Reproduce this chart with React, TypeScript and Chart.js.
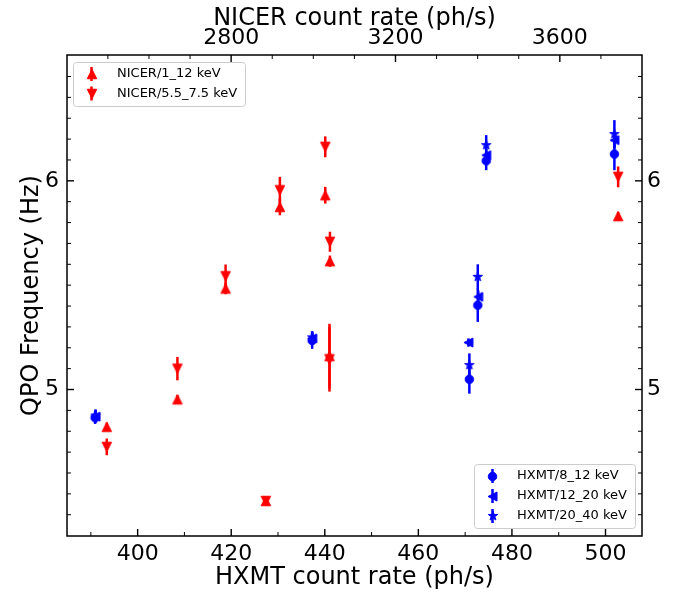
import React, { useEffect, useRef } from 'react';
import { Chart, registerables } from 'chart.js';
Chart.register(...registerables);

// ---- data ----
const nicer112X = [393.4, 408.5, 418.8, 427.4, 430.4, 440.1, 441.1, 441.0, 502.7];
const nicer112Y = [4.821, 4.953, 5.484, 4.466, 5.875, 5.931, 5.615, 5.16, 5.831];
const nicer112Err = [0.02, 0.02, 0.027, 0.02, 0.04, 0.04, 0.027, 0.155, 0.02];

const nicer5575X = [393.4, 408.5, 418.8, 427.4, 430.4, 440.1, 441.1, 441.0, 502.7];
const nicer5575Y = [4.725, 5.10, 5.543, 4.466, 5.955, 6.163, 5.708, 5.145, 6.019];
const nicer5575Err = [0.04, 0.056, 0.056, 0.02, 0.064, 0.05, 0.048, 0.155, 0.05];

const hxmt812X = [390.9, 437.3, 470.9, 472.7, 474.5, 501.9];
const hxmt812Y = [4.865, 5.235, 5.049, 5.404, 6.096, 6.128];
const hxmt812Err = [0.03, 0.04, 0.069, 0.08, 0.045, 0.077];

const hxmt1220X = [391.0, 437.3, 470.7, 472.8, 474.5, 501.9];
const hxmt1220Y = [4.87, 5.245, 5.225, 5.444, 6.123, 6.195];
const hxmt1220Err = [0.03, 0.03, 0.02, 0.03, 0.03, 0.04];

const hxmt2040X = [391.0, 437.3, 470.9, 472.7, 474.5, 501.9];
const hxmt2040Y = [4.875, 5.25, 5.117, 5.54, 6.171, 6.224];
const hxmt2040Err = [0.03, 0.03, 0.056, 0.06, 0.048, 0.067];

const xTickLabels = [400, 420, 440, 460, 480, 500];
const x2TickLabels = [2800, 3200, 3600];
const yTickLabels = [5, 6];

const X_MIN = 384.9, X_MAX = 507.8;
const X2_MIN = 2400.5, X2_MAX = 3800;
const Y_MIN = 4.298, Y_MAX = 6.603;

const RED = '#ff0000';
const BLUE = '#0000ff';
const FONT = "'DejaVu Sans', sans-serif";

function makeMarker(shape: string, color: string, size: number): HTMLCanvasElement {
  const pad = 2;
  const dim = Math.ceil(size) + pad * 2;
  const c = document.createElement('canvas');
  c.width = dim; c.height = dim;
  const g = c.getContext('2d')!;
  const cx = dim / 2, cy = dim / 2, r = size / 2;
  g.fillStyle = color; g.strokeStyle = color; g.lineWidth = 1; g.lineJoin = 'miter';
  g.beginPath();
  if (shape === 'o') g.arc(cx, cy, r, 0, Math.PI * 2);
  else if (shape === '^') { g.moveTo(cx, cy - r); g.lineTo(cx + r, cy + r); g.lineTo(cx - r, cy + r); g.closePath(); }
  else if (shape === 'v') { g.moveTo(cx, cy + r); g.lineTo(cx + r, cy - r); g.lineTo(cx - r, cy - r); g.closePath(); }
  else if (shape === '<') { g.moveTo(cx - r, cy); g.lineTo(cx + r, cy - r); g.lineTo(cx + r, cy + r); g.closePath(); }
  else if (shape === '*') {
    for (let k = 0; k < 10; k++) {
      const a = -Math.PI / 2 + (k * Math.PI) / 5;
      const rr = k % 2 === 0 ? r : r * 0.381966;
      const px = cx + rr * Math.cos(a), py = cy + rr * Math.sin(a);
      if (k === 0) g.moveTo(px, py); else g.lineTo(px, py);
    }
    g.closePath();
  }
  g.fill(); g.stroke();
  return c;
}

const zip = (xs: number[], ys: number[]) => xs.map((x, i) => ({ x, y: ys[i] }));
const range = (a: number, b: number, step: number) => {
  const out: number[] = [];
  for (let v = a; v <= b + 1e-9; v += step) out.push(Math.round(v * 1000) / 1000);
  return out;
};

const errPlugin = {
  id: 'errbars',
  beforeDatasetsDraw(chart: any) {
    const ctx = chart.ctx;
    const ys = chart.scales.y;
    const { left, right, top, bottom } = chart.chartArea;
    ctx.save();
    ctx.beginPath(); ctx.rect(left, top, right - left, bottom - top); ctx.clip();
    chart.data.datasets.forEach((ds: any, i: number) => {
      const meta = chart.getDatasetMeta(i);
      ctx.strokeStyle = ds.barColor;
      ctx.lineWidth = 2.5;
      ds.data.forEach((p: any, j: number) => {
        const el = meta.data[j];
        const e = ds.errs[j];
        ctx.beginPath();
        ctx.moveTo(el.x, ys.getPixelForValue(p.y - e));
        ctx.lineTo(el.x, ys.getPixelForValue(p.y + e));
        ctx.stroke();
      });
    });
    ctx.restore();
  },
};

const framePlugin = {
  id: 'frame',
  afterDraw(chart: any) {
    const ctx = chart.ctx;
    const { left, right, top, bottom } = chart.chartArea;
    ctx.save();
    ctx.strokeStyle = '#000';
    const tickSet = (scale: any, side: string) => {
      scale.ticks.forEach((t: any) => {
        const major = t.label !== '' && t.label != null;
        const len = major ? 7 : 4;
        ctx.lineWidth = major ? 1.4 : 1;
        const p = scale.getPixelForValue(t.value);
        ctx.beginPath();
        if (side === 'bottom') { ctx.moveTo(p, bottom); ctx.lineTo(p, bottom - len); }
        if (side === 'top') { ctx.moveTo(p, top); ctx.lineTo(p, top + len); }
        if (side === 'left') { ctx.moveTo(left, p); ctx.lineTo(left + len, p); }
        if (side === 'right') { ctx.moveTo(right, p); ctx.lineTo(right - len, p); }
        ctx.stroke();
      });
    };
    tickSet(chart.scales.x, 'bottom');
    tickSet(chart.scales.x2, 'top');
    tickSet(chart.scales.y, 'left');
    tickSet(chart.scales.y2, 'right');
    ctx.lineWidth = 1.5;
    ctx.strokeRect(left, top, right - left, bottom - top);

    // legends
    const drawLegend = (box: number[], rows: { y: number; img: HTMLCanvasElement; color: string; text: string }[], mx: number, tx: number) => {
      const [bx, by, bw, bh] = box;
      ctx.beginPath();
      (ctx as any).roundRect(bx + 0.5, by + 0.5, bw, bh, 3);
      ctx.fillStyle = 'rgba(255,255,255,0.8)';
      ctx.fill();
      ctx.strokeStyle = '#cccccc';
      ctx.lineWidth = 1;
      ctx.stroke();
      rows.forEach((r) => {
        ctx.strokeStyle = r.color;
        ctx.lineWidth = 2.5;
        ctx.beginPath();
        ctx.moveTo(mx, r.y - 7); ctx.lineTo(mx, r.y + 7);
        ctx.stroke();
        ctx.drawImage(r.img, Math.round(mx - r.img.width / 2), Math.round(r.y - r.img.height / 2));
        ctx.fillStyle = '#000';
        ctx.font = `13px ${FONT}`;
        ctx.textBaseline = 'middle';
        ctx.textAlign = 'left';
        ctx.fillText(r.text, tx, r.y);
      });
    };
    const ds = chart.data.datasets;
    drawLegend([73, 62, 172, 44], [
      { y: 74, img: ds[0].pointStyle, color: RED, text: ds[0].label },
      { y: 93.5, img: ds[1].pointStyle, color: RED, text: ds[1].label },
    ], 91.5, 117);
    drawLegend([474, 464, 161, 64], [
      { y: 476, img: ds[2].pointStyle, color: BLUE, text: ds[2].label },
      { y: 496, img: ds[3].pointStyle, color: BLUE, text: ds[3].label },
      { y: 516, img: ds[4].pointStyle, color: BLUE, text: ds[4].label },
    ], 492.5, 517);
    ctx.restore();
  },
};

export default function App() {
  const ref = useRef<HTMLCanvasElement>(null);
  useEffect(() => {
    document.body.style.margin = '0';
    const mUp = makeMarker('^', RED, 9.5);
    const mDown = makeMarker('v', RED, 9.5);
    const mCirc = makeMarker('o', BLUE, 8.5);
    const mLeft = makeMarker('<', BLUE, 9);
    const mStar = makeMarker('*', BLUE, 10);

    const xTicks = range(390, 500, 10);
    const x2Ticks = range(2500, 3700, 100);
    const yTicks = range(4.4, 6.5, 0.1);

    const commonTicks = { autoSkip: false, maxRotation: 0, minRotation: 0, color: '#000', font: { size: 22, family: FONT } };
    const noGrid = { display: false, drawTicks: false };

    const mk = (label: string, xs: number[], ys: number[], errs: number[], img: HTMLCanvasElement, color: string) => ({
      label, data: zip(xs, ys), errs, barColor: color, pointStyle: img, pointRadius: 5,
      backgroundColor: color, borderColor: color, showLine: false, xAxisID: 'x', yAxisID: 'y',
    });

    const chart = new Chart(ref.current!, {
      type: 'scatter',
      data: {
        datasets: [
          mk('NICER/1_12 keV', nicer112X, nicer112Y, nicer112Err, mUp, RED),
          mk('NICER/5.5_7.5 keV', nicer5575X, nicer5575Y, nicer5575Err, mDown, RED),
          mk('HXMT/8_12 keV', hxmt812X, hxmt812Y, hxmt812Err, mCirc, BLUE),
          mk('HXMT/12_20 keV', hxmt1220X, hxmt1220Y, hxmt1220Err, mLeft, BLUE),
          mk('HXMT/20_40 keV', hxmt2040X, hxmt2040Y, hxmt2040Err, mStar, BLUE),
        ] as any,
      },
      options: {
        responsive: false,
        animation: false,
        devicePixelRatio: 1,
        layout: { padding: 0 },
        plugins: { legend: { display: false }, tooltip: { enabled: false } },
        scales: {
          x: {
            type: 'linear', position: 'bottom', min: X_MIN, max: X_MAX,
            grid: noGrid, border: { display: false },
            afterBuildTicks: (s: any) => { s.ticks = xTicks.map((v) => ({ value: v })); },
            ticks: { ...commonTicks, padding: 5, callback: (v: any) => (xTickLabels.includes(v) ? String(v) : '') },
            title: { display: true, text: 'HXMT count rate (ph/s)', color: '#000', font: { size: 24, family: FONT }, padding: { top: 0, bottom: 1 } },
            afterFit: (s: any) => { s.height = 57; },
          },
          x2: {
            type: 'linear', position: 'top', min: X2_MIN, max: X2_MAX,
            grid: noGrid, border: { display: false },
            afterBuildTicks: (s: any) => { s.ticks = x2Ticks.map((v) => ({ value: v })); },
            ticks: { ...commonTicks, padding: 4, callback: (v: any) => (x2TickLabels.includes(v) ? String(v) : '') },
            title: { display: true, text: 'NICER count rate (ph/s)', color: '#000', font: { size: 24, family: FONT }, padding: { top: 4, bottom: 0 } },
            afterFit: (s: any) => { s.height = 55; },
          },
          y: {
            type: 'linear', position: 'left', min: Y_MIN, max: Y_MAX,
            grid: noGrid, border: { display: false },
            afterBuildTicks: (s: any) => { s.ticks = yTicks.map((v) => ({ value: v })); },
            ticks: { ...commonTicks, padding: 8, callback: (v: any) => { const m = yTickLabels.find((t) => Math.abs(t - v) < 1e-6); return m !== undefined ? String(m) : ''; } },
            title: { display: true, text: 'QPO Frequency (Hz)', color: '#000', font: { size: 24, family: FONT }, padding: { top: 17, bottom: 0 } },
            afterFit: (s: any) => { s.width = 67; },
          },
          y2: {
            type: 'linear', position: 'right', min: Y_MIN, max: Y_MAX,
            grid: noGrid, border: { display: false },
            afterBuildTicks: (s: any) => { s.ticks = yTicks.map((v) => ({ value: v })); },
            ticks: { ...commonTicks, padding: 5, callback: (v: any) => { const m = yTickLabels.find((t) => Math.abs(t - v) < 1e-6); return m !== undefined ? String(m) : ''; } },
            afterFit: (s: any) => { s.width = 43; },
          },
        } as any,
      },
      plugins: [errPlugin, framePlugin],
    });
    return () => chart.destroy();
  }, []);
  return (
    <div style={{ width: 685, height: 593 }}>
      <canvas ref={ref} width={685} height={593} style={{ display: 'block', width: 685, height: 593 }} />
    </div>
  );
}
